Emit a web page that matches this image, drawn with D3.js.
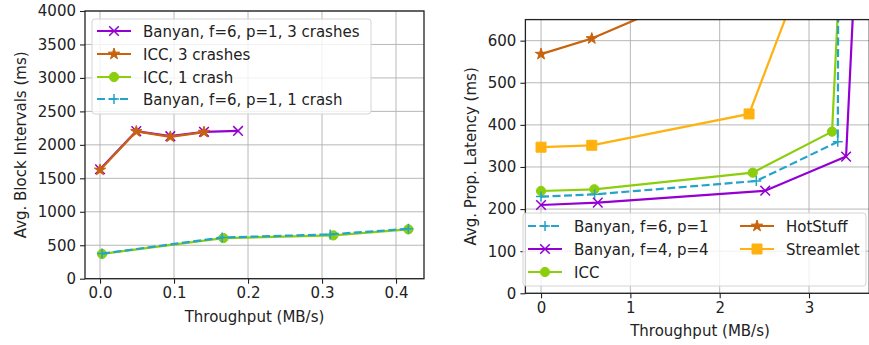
<!DOCTYPE html>
<html><head><meta charset="utf-8">
<script src="https://cdn.jsdelivr.net/npm/d3@7"></script>
<style>body{margin:0;background:#fff}svg{display:block;font-family:"DejaVu Sans",sans-serif}</style>
</head><body><svg id="c" width="869" height="345"></svg>
<script>
// ---------- Data: left panel ----------
const leftXTicks = [0.0, 0.1, 0.2, 0.3, 0.4];
const leftYTicks = [0, 500, 1000, 1500, 2000, 2500, 3000, 3500, 4000];
const banyan3X = [0.0, 0.049, 0.095, 0.1405, 0.1865];
const banyan3Y = [1635, 2205, 2130, 2195, 2208];
const icc3X = [0.0, 0.049, 0.095, 0.1405];
const icc3Y = [1625, 2200, 2120, 2190];
const icc1X = [0.0027, 0.1667, 0.3153, 0.4167];
const icc1Y = [370, 607, 647, 737];
const banyan1X = [0.0027, 0.165, 0.311, 0.4167];
const banyan1Y = [375, 615, 662, 745];

// ---------- Data: right panel ----------
const rightXTicks = [0, 1, 2, 3];
const rightYTicks = [0, 100, 200, 300, 400, 500, 600];
const hotX = [0, 0.568, 1.5];
const hotY = [568, 605, 690];
const strX = [0, 0.568, 2.329, 3.0];
const strY = [347, 351.5, 426, 800];
const iccX = [0, 0.597, 2.37, 3.258, 3.33];
const iccY = [243, 247, 286.5, 384, 700];
const bf6X = [0, 0.6, 2.41, 3.322, 3.33];
const bf6Y = [229.6, 235, 266.7, 360, 900];
const bf4X = [0, 0.635, 2.51, 3.415, 3.5];
const bf4Y = [209.7, 215.3, 243.7, 324.6, 700];

const C = {purple:"#9400d3", orange:"#c8620c", green:"#8bcf0c", cyan:"#24a4c8", yellow:"#ffb20f"};
const FS = 15;
const svg = d3.select("#c");

function markerPath(type){
  if(type==="x") return "M-4.8,-4.8L4.8,4.8M-4.8,4.8L4.8,-4.8";
  if(type==="+") return "M-5,0L5,0M0,-5L0,5";
  if(type==="circle") return d3.symbol(d3.symbolCircle, 68)();
  if(type==="square") return d3.symbol(d3.symbolSquare, 100)();
  if(type==="star") return d3.symbol(d3.symbolStar, 40)();
}
function drawMarker(g, x, y, type, color){
  const stroked = type==="x"||type==="+";
  g.append("path").attr("d", markerPath(type)).attr("transform",`translate(${x},${y})`)
    .attr("fill", stroked?"none":color).attr("stroke", color)
    .attr("stroke-width", stroked?1.5:1);
}

function panel(opt){
  const {x, y} = opt;
  const g = svg.append("g");
  const clipId = "clip"+opt.id;
  svg.append("clipPath").attr("id", clipId).append("rect")
    .attr("x", x.range()[0]).attr("y", y.range()[1])
    .attr("width", x.range()[1]-x.range()[0]).attr("height", y.range()[0]-y.range()[1]);
  // grid
  const grid = g.append("g").attr("stroke","#b0b0b0").attr("stroke-width",0.9);
  opt.xTicks.forEach(t=>grid.append("line").attr("x1",x(t)).attr("x2",x(t)).attr("y1",y.range()[0]).attr("y2",y.range()[1]));
  opt.yTicks.forEach(t=>grid.append("line").attr("y1",y(t)).attr("y2",y(t)).attr("x1",x.range()[0]).attr("x2",x.range()[1]));
  // series
  const sg = g.append("g").attr("clip-path",`url(#${clipId})`);
  opt.series.forEach(s=>{
    const pts = s.xs.map((v,i)=>[x(v), y(s.ys[i])]);
    sg.append("path").attr("d", d3.line()(pts)).attr("fill","none")
      .attr("stroke", s.color).attr("stroke-width",2.2)
      .attr("stroke-dasharray", s.dash?"8,3.5":null);
    pts.forEach(p=>drawMarker(sg, p[0], p[1], s.marker, s.color));
  });
  // axes
  const xa = g.append("g").attr("transform",`translate(0,${y.range()[0]})`)
    .call(d3.axisBottom(x).tickValues(opt.xTicks).tickFormat(opt.xFmt).tickSize(5).tickPadding(4));
  const ya = g.append("g").attr("transform",`translate(${x.range()[0]},0)`)
    .call(d3.axisLeft(y).tickValues(opt.yTicks).tickFormat(d3.format("d")).tickSize(5).tickPadding(4));
  [xa,ya].forEach(a=>{
    a.select(".domain").remove();
    a.selectAll("text").attr("font-size",FS).attr("font-family","DejaVu Sans").attr("fill","#222");
    a.selectAll("line").attr("stroke","#222").attr("stroke-width",1.1);
  });
  // spines
  const [x0,x1]=x.range(), [y0,y1]=[y.range()[0], y.range()[1]];
  g.append("rect").attr("x",x0).attr("y",y1).attr("width",x1-x0).attr("height",y0-y1)
    .attr("fill","none").attr("stroke","#222").attr("stroke-width",1.3);
  // labels
  g.append("text").attr("x",opt.xLabelX).attr("y",opt.xLabelY).attr("text-anchor","middle")
    .attr("font-size",FS).attr("fill","#222").text("Throughput (MB/s)");
  g.append("text").attr("transform",`translate(${opt.yLabelX},${(y0+y1)/2}) rotate(-90)`)
    .attr("text-anchor","middle").attr("font-size",FS).attr("fill","#222").text(opt.yLabel);
  // legend
  const L = opt.legend;
  g.append("rect").attr("x",L.x).attr("y",L.y).attr("width",L.w).attr("height",L.h).attr("rx",3)
    .attr("fill","#fff").attr("fill-opacity",0.8).attr("stroke","#d4d4d4").attr("stroke-width",1);
  L.items.forEach(it=>{
    const s = opt.series.find(d=>d.name===it.name);
    g.append("line").attr("x1",it.x).attr("x2",it.x+34).attr("y1",it.y).attr("y2",it.y)
      .attr("stroke",s.color).attr("stroke-width",2.2).attr("stroke-dasharray",s.dash?"8,3.5":null);
    drawMarker(g, it.x+17, it.y, s.marker, s.color);
    g.append("text").attr("x",it.x+46).attr("y",it.y+5.5).attr("font-size",FS).attr("fill","#222").text(s.name);
  });
}

// Left panel
panel({
  id:"L",
  x: d3.scaleLinear().domain([-0.0203, 0.4378]).range([85, 424]),
  y: d3.scaleLinear().domain([0, 4000]).range([278.7, 11]),
  xTicks: leftXTicks, yTicks: leftYTicks, xFmt: d3.format(".1f"),
  xLabelX: 254.5, xLabelY: 322, yLabelX: 26, yLabel: "Avg. Block Intervals (ms)",
  series: [
    {name:"Banyan, f=6, p=1, 3 crashes", xs:banyan3X, ys:banyan3Y, color:C.purple, marker:"x"},
    {name:"ICC, 3 crashes", xs:icc3X, ys:icc3Y, color:C.orange, marker:"star"},
    {name:"ICC, 1 crash", xs:icc1X, ys:icc1Y, color:C.green, marker:"circle"},
    {name:"Banyan, f=6, p=1, 1 crash", xs:banyan1X, ys:banyan1Y, color:C.cyan, marker:"+", dash:true}
  ],
  legend: {x:92, y:19, w:279, h:95, items:[
    {name:"Banyan, f=6, p=1, 3 crashes", x:97, y:31},
    {name:"ICC, 3 crashes", x:97, y:54},
    {name:"ICC, 1 crash", x:97, y:77},
    {name:"Banyan, f=6, p=1, 1 crash", x:97, y:99}
  ]}
});

// Right panel
panel({
  id:"R",
  x: d3.scaleLinear().domain([-0.175, 3.675]).range([525.4, 869.3]),
  y: d3.scaleLinear().domain([0, 650]).range([293.3, 19.6]),
  xTicks: rightXTicks, yTicks: rightYTicks, xFmt: d3.format("d"),
  xLabelX: 700, xLabelY: 336, yLabelX: 476, yLabel: "Avg. Prop. Latency (ms)",
  series: [
    {name:"HotStuff", xs:hotX, ys:hotY, color:C.orange, marker:"star"},
    {name:"Streamlet", xs:strX, ys:strY, color:C.yellow, marker:"square"},
    {name:"ICC", xs:iccX, ys:iccY, color:C.green, marker:"circle"},
    {name:"Banyan, f=6, p=1", xs:bf6X, ys:bf6Y, color:C.cyan, marker:"+", dash:true},
    {name:"Banyan, f=4, p=4", xs:bf4X, ys:bf4Y, color:C.purple, marker:"x"}
  ],
  legend: {x:523, y:213, w:343, h:73, items:[
    {name:"Banyan, f=6, p=1", x:528, y:226},
    {name:"Banyan, f=4, p=4", x:528, y:249},
    {name:"ICC", x:528, y:272},
    {name:"HotStuff", x:740, y:226},
    {name:"Streamlet", x:740, y:249}
  ]}
});
</script></body></html>
